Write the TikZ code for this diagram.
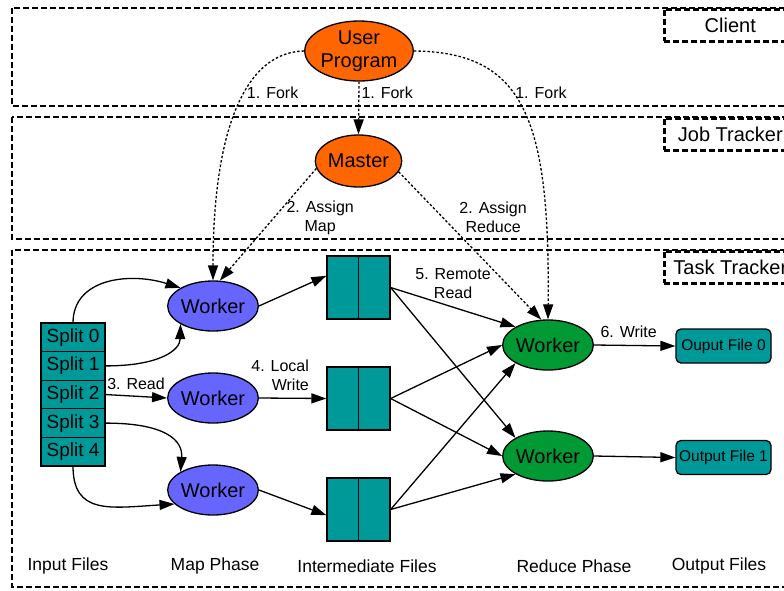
\documentclass[tikz,border=0pt]{standalone}
\usepackage{fontspec}
\setmainfont{Liberation Sans}
\usepackage{xcolor}
\usepackage{tikz}
\usetikzlibrary{positioning, shapes, arrows.meta}

\definecolor{progorange}{HTML}{FF6600}
\definecolor{mapblue}{HTML}{6666FF}
\definecolor{reducegreen}{HTML}{009933}
\definecolor{fileteal}{HTML}{009999}

\tikzset{
  zone/.style={draw, line width=2.6pt, dash pattern=on 6pt off 3pt},
  zonetag/.style={zone, anchor=north west, minimum width=132pt, minimum height=32pt, inner sep=0pt, font=\fontsize{20}{24}\selectfont},
  boss/.style={ellipse, draw, fill=progorange, inner sep=0pt, align=center, font=\fontsize{20}{23}\selectfont},
  worker/.style={ellipse, draw, minimum width=84pt, minimum height=50pt, inner sep=0pt, font=\fontsize{20}{24}\selectfont},
  mapworker/.style={worker, fill=mapblue},
  reduceworker/.style={worker, fill=reducegreen, minimum width=82pt},
  split/.style={draw, fill=fileteal, minimum width=64pt, minimum height=28.6pt, inner sep=0pt, outer sep=0pt, font=\fontsize{19}{22}\selectfont},
  interfile/.style={draw, fill=fileteal, minimum width=63pt, minimum height=63pt, inner sep=0pt},
  outfile/.style={draw, fill=fileteal, rounded corners=5pt, minimum width=95pt, minimum height=34pt, inner sep=0pt, font=\fontsize{15.5}{18}\selectfont},
  fork/.style={->, dash pattern=on 2.5pt off 2pt},
  lbl/.style={font=\fontsize{16}{19}\selectfont, align=center, inner sep=2pt},
  phase/.style={font=\fontsize{17.5}{21}\selectfont}
}

\begin{document}
\begin{tikzpicture}[x=1pt, y=-1pt, line width=1.3pt, >={Triangle[length=15pt, width=10pt]}]
  \useasboundingbox (0,0) rectangle (784,590);

  % tracker zones
  \draw [zone] (12,8) rectangle (800,106);
  \draw [zone] (12,117) rectangle (800,239);
  \draw [zone] (12,250) rectangle (800,587);
  \node (client) [zonetag] at (663,8) {Client};
  \node (jobtracker) [zonetag] at (663,117) {Job Tracker};
  \node (tasktracker) [zonetag] at (663,250) {Task Tracker};

  \node (userprog) [boss, minimum width=108pt, minimum height=60pt] at (359,51) {User\\Program};
  \node (master) [boss, minimum width=83pt, minimum height=52pt] at (358.5,161) {Master};

  % input splits
  \node (split0) [split] at (73,337.3) {Split 0};
  \node (split1) [split, below=0pt of split0] {Split 1};
  \node (split2) [split, below=0pt of split1] {Split 2};
  \node (split3) [split, below=0pt of split2] {Split 3};
  \node (split4) [split, below=0pt of split3] {Split 4};

  \node (mapA) [mapworker] at (213,306) {Worker};
  \node (mapB) [mapworker] at (213,398) {Worker};
  \node (mapC) [mapworker] at (213,490) {Worker};

  \node (inter1) [interfile] at (358.5,287.5) {};
  \node (inter2) [interfile] at (358.5,398.5) {};
  \node (inter3) [interfile] at (358.5,509.5) {};
  \foreach \f in {inter1,inter2,inter3}
    \draw (\f.north) -- (\f.south);

  \node (redA) [reduceworker] at (548,345) {Worker};
  \node (redB) [reduceworker] at (548,456) {Worker};

  \node (out0) [outfile] at (723.5,346) {Ouput File 0};
  \node (out1) [outfile] at (723.5,457.5) {Output File 1};

  % fork and assign
  \draw [fork] (userprog.west) .. controls (245,52) and (213,130) .. (mapA.north) node [lbl, pos=0.42, anchor=west] {1. Fork};
  \draw [fork] (userprog.south) -- (master.north) node [lbl, pos=0.22, anchor=west] {1. Fork};
  \draw [fork] (userprog.east) .. controls (525,52) and (550,120) .. (redA.north) node [lbl, pos=0.42, anchor=west] {1. Fork};
  \draw [fork] (master.190) -- (mapA.75) node [lbl, pos=0.44, anchor=west, xshift=10pt] {2. Assign\\Map};
  \draw [fork] (master.-15) -- (redA.105) node [lbl, pos=0.31, anchor=west, xshift=14pt] {2. Assign\\Reduce};

  % map phase
  \draw [->] (split0.north) .. controls (73,278) and (130,272) .. (mapA.north west);
  \draw [->] (split1.east) .. controls (160,366) and (180,350) .. (mapA.south west);
  \draw [->] (split2.east) -- (mapB.west) node [lbl, midway, above, yshift=4pt] {3. Read};
  \draw [->] (split3.east) .. controls (165,423) and (183,440) .. (mapC.north west);
  \draw [->] (split4.south) .. controls (73,515) and (110,508) .. (mapC.200);

  \draw [->] (mapA.east) -- (inter1.160);
  \draw [->] (mapB.east) -- (inter2.west) node [lbl, pos=0.78, anchor=south east, yshift=5pt, align=right] {4. Local\\Write};
  \draw [->] (mapC.east) -- (inter3.190);

  % reduce phase
  \draw [->] (inter1.east) -- (redA.north west) node [lbl, midway, above, yshift=6pt] {5. Remote\\Read};
  \draw [->] (inter1.east) -- (redB.north west);
  \draw [->] (inter2.east) -- (redA.west);
  \draw [->] (inter2.east) -- (redB.west);
  \draw [->] (inter3.east) -- (redA.south west);
  \draw [->] (inter3.east) -- (redB.south west);

  \draw [->] (redA.east) -- (out0.west) node [lbl, midway, above, xshift=-6pt, yshift=5pt] {6. Write};
  \draw [->] (redB.east) -- (out1.west);

  \node (inputs) [phase] at (68,566) {Input Files};
  \node (mapphase) [phase] at (215,566) {Map Phase};
  \node (interfiles) [phase] at (367,566) {Intermediate Files};
  \node (reducephase) [phase] at (574,566) {Reduce Phase};
  \node (outputs) [phase] at (719,566) {Output Files};
\end{tikzpicture}
\end{document}
